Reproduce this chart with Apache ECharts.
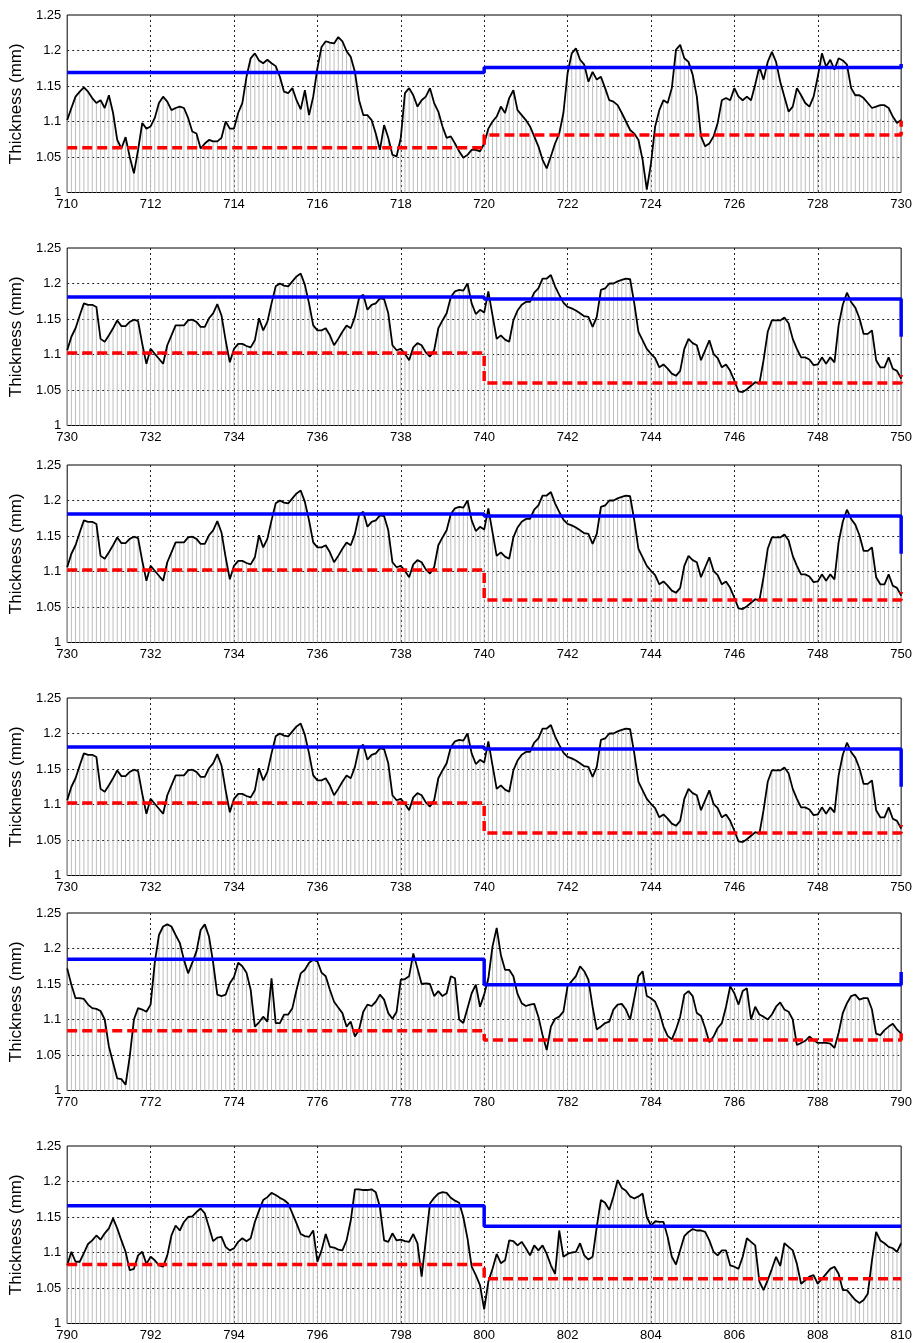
<!DOCTYPE html>
<html><head><meta charset="utf-8">
<script src="https://cdn.jsdelivr.net/npm/echarts@6/dist/echarts.min.js"></script>
<style>html,body{margin:0;padding:0;background:#fff}#c{width:915px;height:1343px}</style>
</head><body><div id="c"></div>
<script>
// x-axis start of each panel (each spans 20 units, sampled every 0.1)
const xStarts = [710, 730, 730, 730, 770, 790];
const sampleStep = 0.1;
const yTicks = ['1', '1.05', '1.1', '1.15', '1.2', '1.25'];

const thick710 = [
1.102,1.119,1.135,1.142,1.148,1.142,1.133,1.126,1.130,1.119,
1.137,1.112,1.074,1.062,1.078,1.050,1.027,1.060,1.098,1.090,
1.093,1.105,1.126,1.135,1.128,1.116,1.119,1.121,1.119,1.105,
1.086,1.083,1.062,1.069,1.074,1.072,1.072,1.077,1.100,1.090,
1.090,1.112,1.126,1.163,1.189,1.196,1.186,1.182,1.187,1.182,
1.178,1.163,1.142,1.140,1.147,1.130,1.117,1.144,1.109,1.135,
1.175,1.205,1.213,1.211,1.210,1.219,1.213,1.199,1.191,1.170,
1.130,1.109,1.109,1.102,1.083,1.060,1.095,1.077,1.053,1.051,
1.077,1.140,1.147,1.137,1.121,1.130,1.135,1.147,1.126,1.114,
1.093,1.077,1.079,1.069,1.058,1.049,1.053,1.060,1.060,1.058,
1.069,1.090,1.100,1.107,1.121,1.112,1.133,1.144,1.116,1.109,
1.102,1.093,1.079,1.065,1.046,1.034,1.051,1.069,1.083,1.112,
1.168,1.196,1.203,1.187,1.180,1.156,1.170,1.159,1.163,1.147,
1.130,1.128,1.123,1.112,1.100,1.088,1.083,1.074,1.046,1.004,
1.041,1.093,1.116,1.130,1.126,1.147,1.201,1.208,1.189,1.184,
1.166,1.135,1.079,1.065,1.069,1.079,1.098,1.130,1.133,1.130,
1.147,1.135,1.130,1.135,1.130,1.152,1.177,1.159,1.184,1.198,
1.184,1.156,1.135,1.114,1.121,1.147,1.137,1.126,1.121,1.135,
1.163,1.196,1.177,1.187,1.173,1.189,1.186,1.180,1.147,1.137,
1.137,1.133,1.126,1.119,1.121,1.123,1.123,1.119,1.107,1.098,
1.102];

const thick730 = [
1.106,1.125,1.137,1.155,1.172,1.170,1.170,1.167,1.122,1.118,
1.127,1.137,1.148,1.140,1.140,1.146,1.149,1.147,1.115,1.087,
1.108,1.101,1.094,1.087,1.113,1.127,1.141,1.141,1.141,1.148,
1.149,1.146,1.139,1.139,1.151,1.158,1.171,1.155,1.120,1.089,
1.108,1.115,1.115,1.112,1.110,1.120,1.151,1.134,1.146,1.172,
1.196,1.200,1.197,1.196,1.203,1.210,1.214,1.198,1.172,1.141,
1.134,1.134,1.137,1.127,1.113,1.122,1.132,1.141,1.137,1.153,
1.180,1.184,1.163,1.170,1.172,1.179,1.178,1.158,1.113,1.106,
1.108,1.101,1.092,1.110,1.116,1.113,1.103,1.097,1.106,1.137,
1.148,1.158,1.181,1.189,1.191,1.190,1.200,1.172,1.157,1.163,
1.159,1.189,1.155,1.122,1.127,1.121,1.118,1.148,1.162,1.170,
1.174,1.174,1.187,1.193,1.207,1.207,1.212,1.196,1.184,1.173,
1.167,1.165,1.162,1.158,1.154,1.153,1.139,1.153,1.191,1.193,
1.200,1.200,1.203,1.205,1.207,1.206,1.172,1.132,1.120,1.108,
1.101,1.095,1.082,1.086,1.080,1.073,1.070,1.077,1.108,1.122,
1.116,1.113,1.092,1.106,1.120,1.101,1.095,1.082,1.086,1.077,
1.063,1.048,1.047,1.051,1.056,1.061,1.059,1.092,1.132,1.148,
1.148,1.148,1.152,1.144,1.122,1.108,1.096,1.096,1.093,1.085,
1.086,1.096,1.087,1.096,1.089,1.141,1.170,1.187,1.174,1.166,
1.151,1.129,1.129,1.134,1.092,1.082,1.082,1.096,1.080,1.077,
1.066];

const thick770 = [
1.172,1.149,1.130,1.130,1.129,1.121,1.116,1.115,1.112,1.100,
1.062,1.039,1.017,1.016,1.008,1.048,1.100,1.116,1.114,1.111,
1.121,1.180,1.219,1.231,1.234,1.231,1.219,1.208,1.184,1.165,
1.180,1.196,1.226,1.234,1.217,1.180,1.135,1.133,1.135,1.151,
1.160,1.180,1.175,1.166,1.142,1.090,1.096,1.104,1.097,1.158,
1.095,1.095,1.107,1.107,1.116,1.142,1.165,1.170,1.180,1.184,
1.182,1.166,1.161,1.142,1.125,1.117,1.109,1.090,1.097,1.076,
1.086,1.111,1.121,1.119,1.125,1.135,1.128,1.109,1.101,1.111,
1.156,1.157,1.161,1.193,1.172,1.150,1.151,1.150,1.133,1.140,
1.133,1.137,1.161,1.158,1.100,1.095,1.116,1.137,1.149,1.118,
1.135,1.158,1.203,1.229,1.191,1.170,1.170,1.161,1.136,1.123,
1.119,1.121,1.122,1.104,1.078,1.057,1.090,1.101,1.104,1.111,
1.147,1.154,1.161,1.175,1.168,1.156,1.118,1.086,1.090,1.095,
1.097,1.114,1.121,1.122,1.114,1.100,1.130,1.161,1.168,1.133,
1.130,1.125,1.111,1.090,1.077,1.072,1.086,1.104,1.135,1.140,
1.133,1.109,1.105,1.088,1.068,1.076,1.088,1.095,1.118,1.147,
1.137,1.121,1.140,1.144,1.100,1.118,1.107,1.104,1.100,1.107,
1.118,1.124,1.114,1.111,1.100,1.064,1.067,1.070,1.076,1.071,
1.067,1.067,1.067,1.066,1.060,1.081,1.109,1.123,1.133,1.135,
1.128,1.130,1.130,1.114,1.080,1.078,1.085,1.090,1.094,1.086,
1.080];

const thick790 = [
1.082,1.101,1.087,1.087,1.099,1.112,1.117,1.124,1.118,1.127,
1.134,1.148,1.134,1.117,1.101,1.075,1.077,1.096,1.101,1.084,
1.094,1.089,1.082,1.080,1.096,1.124,1.138,1.131,1.143,1.150,
1.151,1.157,1.162,1.155,1.136,1.116,1.121,1.122,1.108,1.103,
1.106,1.115,1.120,1.116,1.120,1.143,1.159,1.174,1.178,1.184,
1.181,1.177,1.174,1.169,1.155,1.141,1.126,1.123,1.122,1.131,
1.087,1.103,1.126,1.108,1.107,1.104,1.103,1.117,1.145,1.189,
1.189,1.188,1.188,1.189,1.185,1.164,1.117,1.115,1.127,1.117,
1.118,1.116,1.115,1.126,1.113,1.066,1.117,1.169,1.177,1.183,
1.185,1.184,1.177,1.173,1.170,1.150,1.120,1.080,1.068,1.054,
1.020,1.059,1.077,1.098,1.085,1.089,1.117,1.116,1.110,1.115,
1.106,1.096,1.110,1.103,1.110,1.098,1.082,1.070,1.131,1.094,
1.098,1.100,1.101,1.113,1.096,1.090,1.094,1.136,1.174,1.170,
1.160,1.179,1.202,1.191,1.187,1.179,1.176,1.179,1.183,1.150,
1.138,1.144,1.143,1.143,1.122,1.094,1.083,1.103,1.123,1.129,
1.133,1.131,1.131,1.129,1.117,1.101,1.096,1.103,1.103,1.082,
1.080,1.077,1.094,1.120,1.115,1.110,1.059,1.047,1.061,1.077,
1.094,1.081,1.113,1.108,1.103,1.084,1.056,1.061,1.066,1.068,
1.056,1.063,1.070,1.077,1.080,1.070,1.047,1.047,1.040,1.033,
1.029,1.033,1.042,1.089,1.129,1.117,1.113,1.108,1.106,1.101,
1.113];

// upper (blue) and lower (red) limit step lines per panel
const upper710 = [[710,1.169],[720,1.169],[720,1.176],[730,1.176],[730,1.181]];
const lower710 = [[710,1.063],[720,1.063],[720,1.081],[730,1.081],[730,1.101]];
const upper730 = [[730,1.181],[740,1.181],[740,1.178],[750,1.178],[750,1.125]];
const lower730 = [[730,1.102],[740,1.102],[740,1.060],[750,1.060],[750,1.071]];
const upper770 = [[770,1.185],[780,1.185],[780,1.149],[790,1.149],[790,1.167]];
const lower770 = [[770,1.084],[780,1.084],[780,1.071],[790,1.071],[790,1.084]];
const upper790 = [[790,1.166],[800,1.166],[800,1.137],[810,1.137]];
const lower790 = [[790,1.083],[800,1.083],[800,1.063],[810,1.063]];

const panelThick = [thick710, thick730, thick730, thick730, thick770, thick790];
const panelUpper = [upper710, upper730, upper730, upper730, upper770, upper790];
const panelLower = [lower710, lower730, lower730, lower730, lower770, lower790];

// layout
const tops = [15, 248, 465, 698, 913, 1146];
const FONT = '"Liberation Sans", Arial, Helvetica, sans-serif';

const grids = [], xAxes = [], yAxes = [], series = [];
const gridLine = {show: true, showMinLine: false, showMaxLine: false,
  lineStyle: {color: '#222', width: 1, type: [2, 3]}};

tops.forEach((top, i) => {
  const xs = xStarts[i];
  grids.push({left: 65.7, top: top, width: 837.3, height: 177.5, show: true,
    borderColor: '#000', borderWidth: 1, backgroundColor: 'transparent'});
  xAxes.push({type: 'value', gridIndex: i, min: xs, max: xs + 20, interval: 2,
    axisLine: {show: false}, axisTick: {show: false},
    axisLabel: {color: '#000', fontSize: 13, fontFamily: FONT, margin: 5},
    splitLine: gridLine});
  yAxes.push({type: 'value', gridIndex: i, min: 1, max: 1.25, interval: 0.05,
    name: 'Thickness (mm)', nameLocation: 'middle', nameGap: 39,
    nameTextStyle: {fontSize: 17, color: '#000', fontFamily: FONT},
    axisLine: {show: false}, axisTick: {show: false},
    axisLabel: {color: '#000', fontSize: 13, fontFamily: FONT, margin: 6,
      formatter: v => yTicks[Math.round((v - 1) / 0.05)]},
    splitLine: gridLine});
  const pts = panelThick[i].map((v, k) => [+(xs + k * sampleStep).toFixed(1), v]);
  series.push({type: 'bar', xAxisIndex: i, yAxisIndex: i, data: pts, barWidth: 1,
    itemStyle: {color: '#bdbdbd'}, silent: true, z: 1, clip: true});
  series.push({type: 'line', xAxisIndex: i, yAxisIndex: i, data: pts, symbol: 'none',
    lineStyle: {color: '#000', width: 1.8}, z: 2, clip: true});
  series.push({type: 'line', xAxisIndex: i, yAxisIndex: i, data: panelUpper[i], symbol: 'none',
    lineStyle: {color: '#0000ff', width: 3.5}, z: 3, clip: true});
  series.push({type: 'line', xAxisIndex: i, yAxisIndex: i, data: panelLower[i], symbol: 'none',
    lineStyle: {color: '#ff0000', width: 3.5, type: [10, 5]}, z: 3, clip: true});
});

const chart = echarts.init(document.getElementById('c'), null, {renderer: 'canvas'});
chart.setOption({animation: false, backgroundColor: '#fff',
  grid: grids, xAxis: xAxes, yAxis: yAxes, series: series});
</script></body></html>
